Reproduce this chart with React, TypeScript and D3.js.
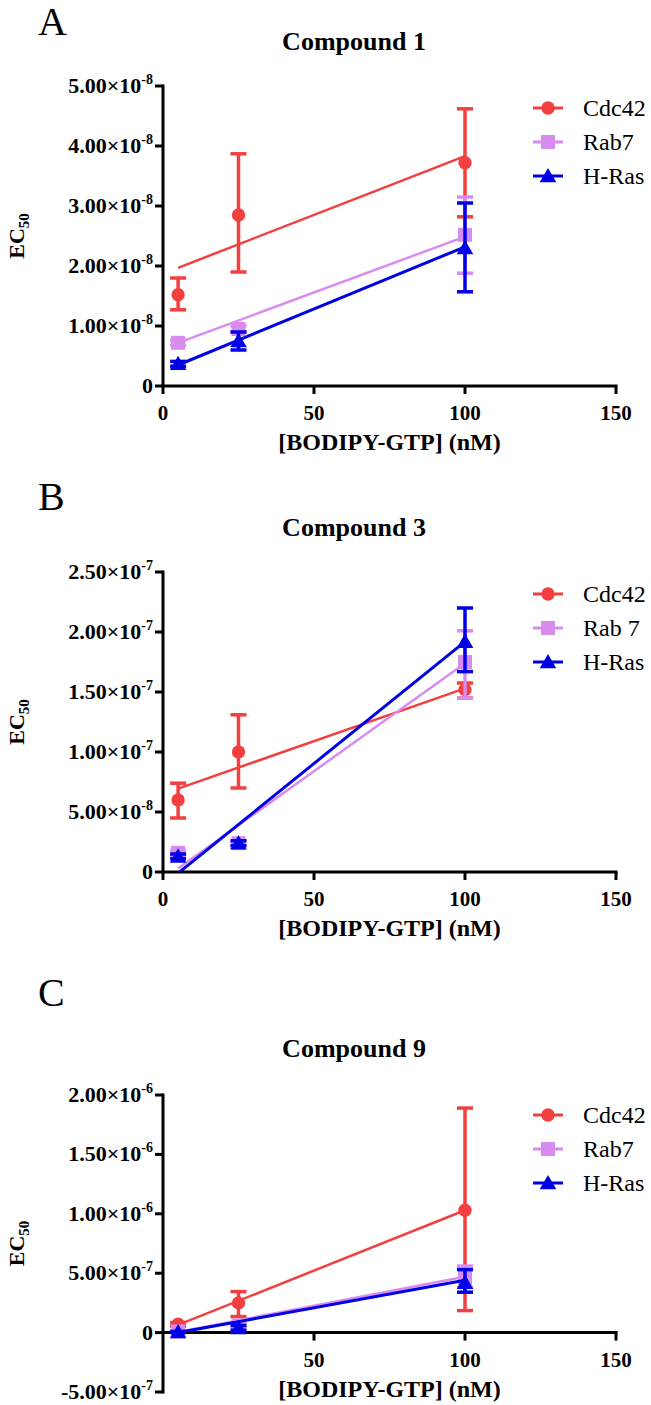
import React from 'react';
import * as d3 from 'd3';

// ---------- data ----------
const conc = [5, 25, 100];
const fitX = [5, 100];
const xTicks = [0, 50, 100, 150];
const namesA = ['Cdc42', 'Rab7', 'H-Ras'];
const namesB = ['Cdc42', 'Rab 7', 'H-Ras'];
const namesC = ['Cdc42', 'Rab7', 'H-Ras'];
const colors = ['#f23f3f', '#d98cf0', '#0000e6'];
const titles = ['Compound 1', 'Compound 3', 'Compound 9'];
const letters = ['A', 'B', 'C'];

// Panel A (Compound 1)
const aCdc42 = [1.52e-8, 2.85e-8, 3.72e-8];
const aCdc42Lo = [1.27e-8, 1.9e-8, 2.82e-8];
const aCdc42Hi = [1.8e-8, 3.87e-8, 4.62e-8];
const aRab7 = [0.72e-8, 0.95e-8, 2.52e-8];
const aRab7Lo = [0.68e-8, 0.9e-8, 1.88e-8];
const aRab7Hi = [0.76e-8, 1.0e-8, 3.15e-8];
const aHRas = [0.37e-8, 0.75e-8, 2.3e-8];
const aHRasLo = [0.33e-8, 0.6e-8, 1.57e-8];
const aHRasHi = [0.41e-8, 0.9e-8, 3.05e-8];
const aFitCdc42 = [1.97e-8, 3.83e-8];
const aFitRab7 = [0.72e-8, 2.49e-8];
const aFitHRas = [0.35e-8, 2.32e-8];
const aYTicks = [0, 1e-8, 2e-8, 3e-8, 4e-8, 5e-8];

// Panel B (Compound 3)
const bCdc42 = [6.0e-8, 10.0e-8, 15.2e-8];
const bCdc42Lo = [4.5e-8, 7.0e-8, 14.5e-8];
const bCdc42Hi = [7.4e-8, 13.1e-8, 15.75e-8];
const bRab7 = [1.6e-8, 2.4e-8, 17.5e-8];
const bRab7Lo = [1.4e-8, 2.2e-8, 14.5e-8];
const bRab7Hi = [1.8e-8, 2.6e-8, 20.1e-8];
const bHRas = [1.3e-8, 2.4e-8, 19.2e-8];
const bHRasLo = [1.1e-8, 2.2e-8, 16.7e-8];
const bHRasHi = [1.5e-8, 2.6e-8, 22.0e-8];
const bFitCdc42 = [6.95e-8, 15.3e-8];
const bFitRab7 = [0.3e-8, 17.4e-8];
const bFitHRas = [-0.1e-8, 19.2e-8];
const bYTicks = [0, 0.5e-7, 1e-7, 1.5e-7, 2e-7, 2.5e-7];

// Panel C (Compound 9)
const cCdc42 = [0.7e-7, 2.5e-7, 10.3e-7];
const cCdc42Lo = [0.55e-7, 1.35e-7, 1.85e-7];
const cCdc42Hi = [0.85e-7, 3.45e-7, 18.9e-7];
const cRab7 = [0.1e-7, 0.6e-7, 4.6e-7];
const cRab7Lo = [0.05e-7, 0.4e-7, 3.8e-7];
const cRab7Hi = [0.15e-7, 0.8e-7, 5.6e-7];
const cHRas = [0.05e-7, 0.4e-7, 4.2e-7];
const cHRasLo = [0.0, 0.2e-7, 3.4e-7];
const cHRasHi = [0.1e-7, 0.6e-7, 5.3e-7];
const cFitCdc42 = [0.65e-7, 10.3e-7];
const cFitRab7 = [0.05e-7, 4.7e-7];
const cFitHRas = [0.0, 4.4e-7];
const cYTicks = [-5e-7, 0, 5e-7, 1e-6, 1.5e-6, 2e-6];

// ---------- layout ----------
const X0 = 163;
const X1 = 616;
const FONT = "Liberation Serif, DejaVu Serif, serif";
const fs = (size: number, bold = false): React.CSSProperties => ({
  fontFamily: FONT,
  fontSize: size,
  fontWeight: bold ? 700 : 400,
});

type Series = { name: string; color: string; y: number[]; lo: number[]; hi: number[]; fit: number[]; shape: number };

const panels = [
  {
    letter: letters[0], title: titles[0], yTop: 86, yBottom: 386, domain: [0, 5e-8], ticks: aYTicks,
    letterY: 35, titleY: 50, legendY: 108, showZeroX: true,
    series: [
      { name: namesA[0], color: colors[0], y: aCdc42, lo: aCdc42Lo, hi: aCdc42Hi, fit: aFitCdc42, shape: 0 },
      { name: namesA[1], color: colors[1], y: aRab7, lo: aRab7Lo, hi: aRab7Hi, fit: aFitRab7, shape: 1 },
      { name: namesA[2], color: colors[2], y: aHRas, lo: aHRasLo, hi: aHRasHi, fit: aFitHRas, shape: 2 },
    ] as Series[],
  },
  {
    letter: letters[1], title: titles[1], yTop: 572, yBottom: 872, domain: [0, 2.5e-7], ticks: bYTicks,
    letterY: 510, titleY: 536, legendY: 594, showZeroX: true,
    series: [
      { name: namesB[0], color: colors[0], y: bCdc42, lo: bCdc42Lo, hi: bCdc42Hi, fit: bFitCdc42, shape: 0 },
      { name: namesB[1], color: colors[1], y: bRab7, lo: bRab7Lo, hi: bRab7Hi, fit: bFitRab7, shape: 1 },
      { name: namesB[2], color: colors[2], y: bHRas, lo: bHRasLo, hi: bHRasHi, fit: bFitHRas, shape: 2 },
    ] as Series[],
  },
  {
    letter: letters[2], title: titles[2], yTop: 1095, yBottom: 1392, domain: [-5e-7, 2e-6], ticks: cYTicks,
    letterY: 1006, titleY: 1057, legendY: 1115, showZeroX: false,
    series: [
      { name: namesC[0], color: colors[0], y: cCdc42, lo: cCdc42Lo, hi: cCdc42Hi, fit: cFitCdc42, shape: 0 },
      { name: namesC[1], color: colors[1], y: cRab7, lo: cRab7Lo, hi: cRab7Hi, fit: cFitRab7, shape: 1 },
      { name: namesC[2], color: colors[2], y: cHRas, lo: cHRasLo, hi: cHRasHi, fit: cFitHRas, shape: 2 },
    ] as Series[],
  },
];

const symbolTypes = [d3.symbolCircle, d3.symbolSquare, d3.symbolTriangle];
const symbolSizes = [140, 196, 120];

function sciLabel(v: number) {
  if (v === 0) return { main: '0', sup: '' };
  const e = Math.floor(Math.log10(Math.abs(v)) + 1e-9);
  const m = v / Math.pow(10, e);
  return { main: m.toFixed(2) + '×10', sup: String(e) };
}

function Panel({ p, idx }: { p: (typeof panels)[number]; idx: number }) {
  const x = d3.scaleLinear().domain([0, 150]).range([X0, X1]);
  const y = d3.scaleLinear().domain(p.domain).range([p.yBottom, p.yTop]);
  const axisY = y(0);
  const clipId = `clip${idx}`;
  const line = d3.line<[number, number]>().x((d) => x(d[0])).y((d) => y(d[1]));
  const yMid = (p.yTop + p.yBottom) / 2;
  return (
    <g>
      <defs>
        <clipPath id={clipId}>
          <rect x={X0} y={p.yTop - 40} width={X1 - X0} height={axisY - p.yTop + 40} />
        </clipPath>
      </defs>
      <text x={38} y={p.letterY} style={fs(40)}>{p.letter}</text>
      <text x={354} y={p.titleY} style={fs(26, true)} textAnchor="middle">{p.title}</text>
      {/* y axis title */}
      <text transform={`translate(24,${yMid}) rotate(-90)`} style={fs(22, true)} textAnchor="middle">
        EC<tspan style={fs(15, true)} dy={5}>50</tspan>
      </text>
      {/* y axis */}
      <line x1={X0} x2={X0} y1={p.yTop - 1.5} y2={p.yBottom + 1.5} stroke="#000" strokeWidth={3} />
      {p.ticks.map((t, i) => {
        const lab = sciLabel(t);
        return (
          <g key={i}>
            <line x1={X0 - 8} x2={X0} y1={y(t)} y2={y(t)} stroke="#000" strokeWidth={3} />
            <text x={153} y={y(t) + 7} style={fs(22, true)} textAnchor="end">
              {lab.main}
              {lab.sup ? <tspan style={fs(14, true)} dy={-9}>{lab.sup}</tspan> : null}
            </text>
          </g>
        );
      })}
      {/* x axis */}
      <line x1={X0 - 1.5} x2={X1 + 1.5} y1={axisY} y2={axisY} stroke="#000" strokeWidth={3} />
      {xTicks.map((t, i) => (
        (t === 0 && !p.showZeroX) ? null : (
          <g key={i}>
            <line x1={x(t)} x2={x(t)} y1={axisY} y2={axisY + 8} stroke="#000" strokeWidth={3} />
            <text x={x(t)} y={axisY + 34} style={fs(21, true)} textAnchor="middle">{t}</text>
          </g>
        )
      ))}
      <text x={(X0 + X1) / 2} y={axisY + 64} style={fs(24, true)} textAnchor="middle">[BODIPY-GTP] (nM)</text>
      {/* series */}
      {p.series.map((s, si) => {
        const sym = d3.symbol().type(symbolTypes[s.shape]).size(symbolSizes[s.shape]);
        const fitPts: [number, number][] = fitX.map((fx, k) => [fx, s.fit[k]]);
        return (
          <g key={si}>
            <path d={line(fitPts) || ''} fill="none" stroke={s.color} strokeWidth={s.shape === 2 ? 3 : 2.5} clipPath={`url(#${clipId})`} />
            {conc.map((c, k) => (
              <g key={k}>
                <line x1={x(c)} x2={x(c)} y1={y(s.lo[k])} y2={y(s.hi[k])} stroke={s.color} strokeWidth={3.5} />
                <line x1={x(c) - 8} x2={x(c) + 8} y1={y(s.lo[k])} y2={y(s.lo[k])} stroke={s.color} strokeWidth={3.5} />
                <line x1={x(c) - 8} x2={x(c) + 8} y1={y(s.hi[k])} y2={y(s.hi[k])} stroke={s.color} strokeWidth={3.5} />
                <path d={sym() || ''} transform={`translate(${x(c)},${y(s.y[k]) + (s.shape === 2 ? 1.5 : 0)})`} fill={s.color} />
              </g>
            ))}
            {/* legend */}
            <line x1={533} x2={563} y1={p.legendY + si * 34} y2={p.legendY + si * 34} stroke={s.color} strokeWidth={3} />
            <path d={sym() || ''} transform={`translate(548,${p.legendY + si * 34 + (s.shape === 2 ? 1.5 : 0)})`} fill={s.color} />
            <text x={583} y={p.legendY + si * 34 + 8} style={fs(24)}>{s.name}</text>
          </g>
        );
      })}
    </g>
  );
}

export default function App() {
  return (
    <svg width={651} height={1405} style={{ position: 'absolute', left: 0, top: 0, background: '#fff' }}>
      <rect width={651} height={1405} fill="#fff" />
      {panels.map((p, i) => <Panel key={i} p={p} idx={i} />)}
    </svg>
  );
}
